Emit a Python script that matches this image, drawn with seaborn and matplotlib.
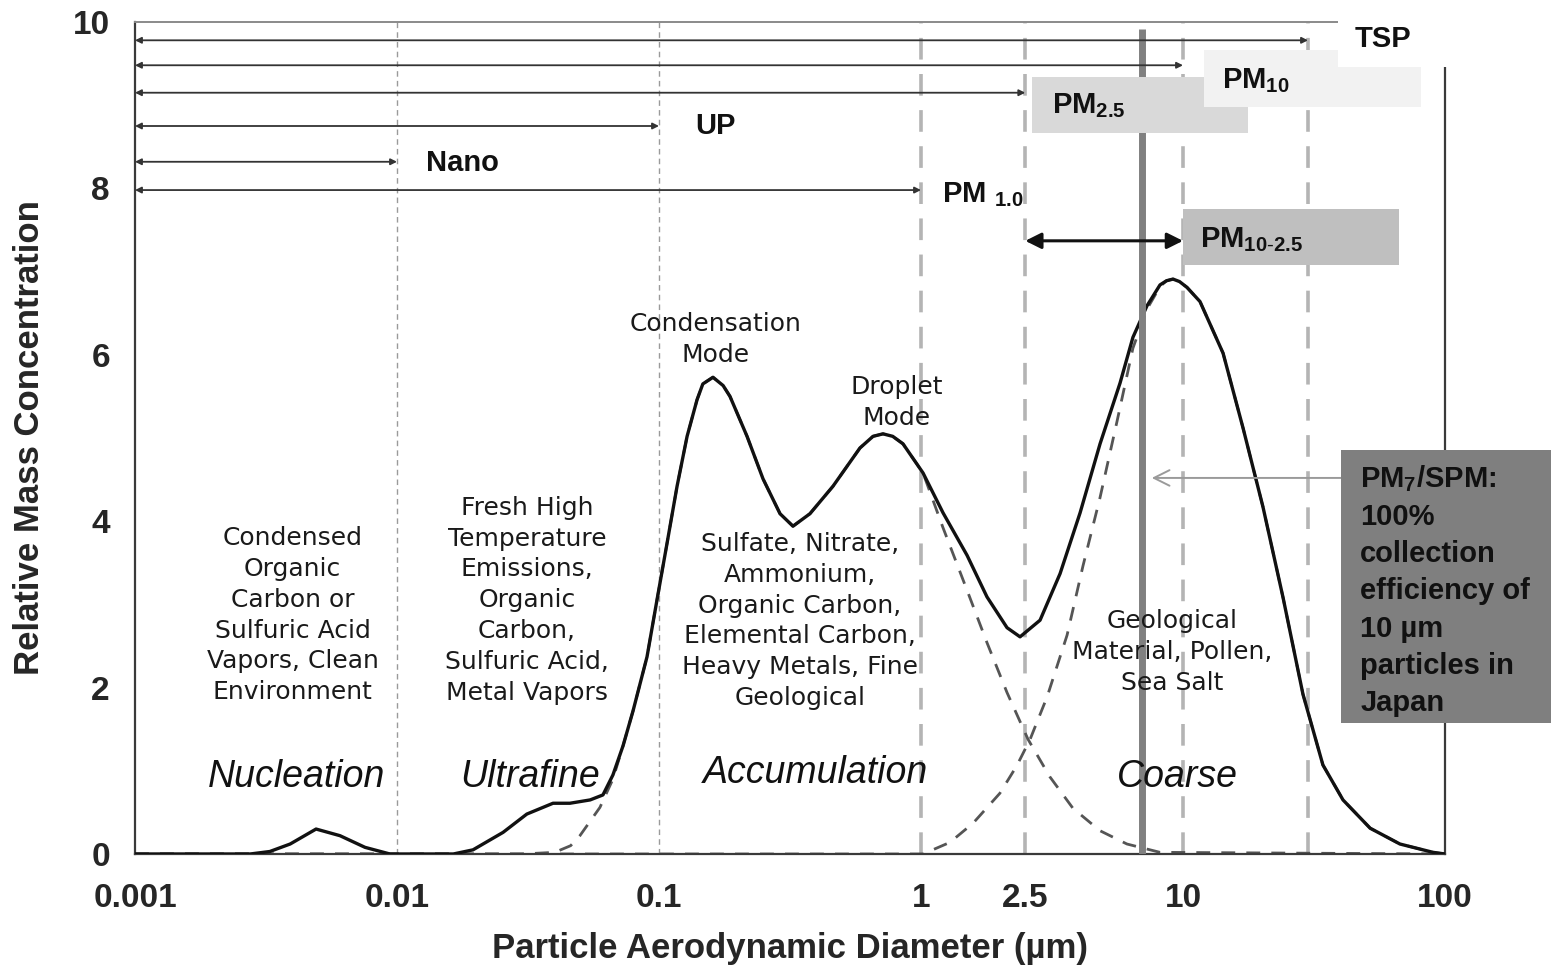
import matplotlib
matplotlib.use("Agg")
import matplotlib.pyplot as plt
from matplotlib.patches import Rectangle
from matplotlib.ticker import LogLocator, NullFormatter
import seaborn as sns
import pandas as pd

# Particle diameter (um) / relative mass concentration
total_d = [0.001, 0.00275, 0.00327, 0.00391, 0.00491, 0.00606, 0.00755, 0.0094,
           0.0112, 0.0164, 0.0195, 0.0254, 0.0313, 0.0394, 0.0457, 0.0546, 0.0611,
           0.0667, 0.0729, 0.0796, 0.0900, 0.0982, 0.1074, 0.1172, 0.1280, 0.1397,
           0.147, 0.1607, 0.1757, 0.1866, 0.2168, 0.2494, 0.2897, 0.3246, 0.3768,
           0.4613, 0.5848, 0.656, 0.7161, 0.78, 0.8536, 1.018, 1.214, 1.499, 1.786,
           2.130, 2.388, 2.847, 3.395, 4.047, 4.824, 5.75, 6.44, 7.29, 8.17, 8.65,
           9.16, 9.7, 10.36, 11.61, 14.22, 16.95, 20.2, 24.1, 28.7, 34.2, 40.8,
           51.8, 67.3, 90.0, 100]
total_c = [0, 0, 0.03, 0.12, 0.30, 0.22, 0.08, 0.0,
           0, 0, 0.05, 0.26, 0.48, 0.61, 0.61, 0.65, 0.71,
           0.95, 1.30, 1.72, 2.37, 3.05, 3.74, 4.42, 5.02, 5.46,
           5.65, 5.73, 5.63, 5.50, 5.02, 4.51, 4.09, 3.94, 4.09,
           4.42, 4.88, 5.02, 5.05, 5.02, 4.93, 4.58, 4.10, 3.59, 3.09,
           2.72, 2.61, 2.81, 3.37, 4.10, 4.93, 5.66, 6.21, 6.59, 6.84, 6.89,
           6.91, 6.88, 6.81, 6.64, 6.02, 5.12, 4.17, 3.08, 1.92, 1.07, 0.65,
           0.31, 0.12, 0.02, 0]

accum_d = [0.001, 0.03, 0.040, 0.046, 0.0499, 0.0595, 0.0667, 0.0729, 0.0796,
           0.0900, 0.0982, 0.1074, 0.1172, 0.1280, 0.1397, 0.147, 0.1607, 0.1757,
           0.1866, 0.2168, 0.2494, 0.2897, 0.3246, 0.3768, 0.4613, 0.5848, 0.656,
           0.7161, 0.78, 0.8536, 1.018, 1.214, 1.499, 1.786, 2.130, 2.56, 3.10,
           3.80, 4.82, 6.11, 8.17, 100]
accum_c = [0, 0, 0.02, 0.10, 0.22, 0.56, 0.90, 1.30, 1.72,
           2.37, 3.05, 3.74, 4.42, 5.02, 5.46, 5.65, 5.73, 5.63,
           5.50, 5.02, 4.51, 4.09, 3.94, 4.09, 4.42, 4.88, 5.02,
           5.05, 5.02, 4.93, 4.58, 3.92, 3.17, 2.54, 1.94, 1.38, 0.93,
           0.55, 0.28, 0.12, 0.02, 0]

coarse_d = [0.001, 1.018, 1.29, 1.58, 2.00, 2.32, 2.61, 3.03, 3.61, 4.15, 4.82,
            5.60, 6.44, 7.29, 8.17, 8.65, 9.16, 9.7, 10.36, 11.61, 14.22, 16.95,
            20.2, 24.1, 28.7, 34.2, 40.8, 51.8, 67.3, 90.0, 100]
coarse_c = [0, 0, 0.14, 0.37, 0.73, 1.06, 1.38, 1.89, 2.63, 3.46, 4.28,
            5.20, 6.08, 6.55, 6.82, 6.89, 6.91, 6.88, 6.81, 6.64, 6.02, 5.12,
            4.17, 3.08, 1.92, 1.07, 0.65, 0.31, 0.12, 0.02, 0]

# size cut points (um)
thin_cuts = [0.01, 0.1]
thick_cuts = [1, 2.5, 10, 30]
pm7_cut = 7

# size fractions measured from 0.001 um up to their cut
fraction_names = ["TSP", "PM10", "PM2.5", "UP", "Nano", "PM1.0"]
fraction_cuts = [30, 10, 2.5, 0.1, 0.01, 1]

xtick_vals = [0.001, 0.01, 0.1, 1, 2.5, 10, 100]
xtick_labels = ["0.001", "0.01", "0.1", "1", "2.5", "10", "100"]
ytick_vals = [0, 2, 4, 6, 8, 10]

sns.set_theme(style="white")
plt.rcParams["font.family"] = ["Liberation Sans", "DejaVu Sans"]
plt.rcParams["mathtext.fontset"] = "custom"
plt.rcParams["mathtext.rm"] = "Liberation Sans"
plt.rcParams["mathtext.bf"] = "Liberation Sans:bold"
plt.rcParams["mathtext.it"] = "Liberation Sans:italic"

fig = plt.figure(figsize=(15.51, 9.66), dpi=100)
ax = fig.add_axes([135 / 1551, 1 - 854 / 966, 1310 / 1551, 832 / 966])
ax.set_xscale("log")

# cut lines
for c in thin_cuts:
    ax.plot([c, c], [0, 10], color="#9a9a9a", lw=1.0, ls=(0, (4, 3)), zorder=1)
for c in thick_cuts:
    ax.plot([c, c], [0, 10], color="#b4b4b4", lw=2.6, ls=(0, (6, 4)), zorder=1)

# mode curves
sns.lineplot(x=accum_d, y=accum_c, ax=ax, color="#555555", lw=2.0,
             linestyle=(0, (5, 4)), zorder=2)
sns.lineplot(x=coarse_d, y=coarse_c, ax=ax, color="#555555", lw=2.0,
             linestyle=(0, (5, 4)), zorder=2)
sns.lineplot(x=total_d, y=total_c, ax=ax, color="#111111", lw=2.4, zorder=3)

ax.plot([pm7_cut, pm7_cut], [0, 9.92], color="#808080", lw=5, zorder=4,
        solid_capstyle="butt")

ax.set_xlim(0.001, 100)
ax.set_ylim(0, 10)

# spines / ticks
for side in ["left", "bottom", "right"]:
    ax.spines[side].set_color("#3a3a3a")
    ax.spines[side].set_linewidth(1.6)
ax.spines["top"].set_color("#8a8a8a")
ax.spines["top"].set_linewidth(1.4)

ax.set_xticks(xtick_vals)
ax.set_xticklabels(xtick_labels)
ax.xaxis.set_minor_locator(LogLocator(base=10, subs=range(2, 10)))
ax.xaxis.set_minor_formatter(NullFormatter())
ax.set_yticks(ytick_vals)
ax.tick_params(which="major", direction="inout", length=12, width=1.2,
               color="#3a3a3a", labelsize=24)
ax.tick_params(which="minor", direction="inout", length=9, width=1.0,
               color="#3a3a3a")
ax.tick_params(axis="x", which="major", pad=15)
ax.tick_params(axis="y", which="major", pad=12)
ax.tick_params(axis="y", which="minor", left=False)
for lab in ax.get_xticklabels() + ax.get_yticklabels():
    lab.set_fontweight("bold")

ax.set_xlabel("Particle Aerodynamic Diameter (µm)", fontsize=25,
              fontweight="bold", labelpad=13)
ax.set_ylabel("Relative Mass Concentration", fontsize=25,
              fontweight="bold", labelpad=19)

# size fraction arrows
levels = {"TSP": 9.78, "PM10": 9.48, "PM2.5": 9.15, "UP": 8.75, "Nano": 8.32,
          "PM1.0": 7.98}
for name, cut in zip(fraction_names, fraction_cuts):
    ax.annotate("", xy=(cut, levels[name]), xytext=(0.001, levels[name]),
                arrowprops=dict(arrowstyle="<|-|>", color="#333333", lw=1.3,
                                mutation_scale=9, shrinkA=0, shrinkB=0),
                zorder=5)
ax.annotate("", xy=(10, 7.37), xytext=(2.5, 7.37),
            arrowprops=dict(arrowstyle="<|-|>", color="#111111", lw=2.2,
                            mutation_scale=24, shrinkA=0, shrinkB=0), zorder=5)

# label boxes
ax.add_patch(Rectangle((2.65, 8.67), 17.7 - 2.65, 0.67, color="#d9d9d9",
                       lw=0, zorder=6, clip_on=False))
ax.add_patch(Rectangle((12.0, 8.98), 80.9 - 12.0, 0.68, color="#f2f2f2",
                       lw=0, zorder=7, clip_on=False))
ax.add_patch(Rectangle((10.0, 7.08), 66.7 - 10.0, 0.67, color="#bfbfbf",
                       lw=0, zorder=6, clip_on=False))
ax.add_patch(Rectangle((39.1, 9.46), 400, 2.0, color="white", lw=0,
                       zorder=8, clip_on=False))
ax.add_patch(Rectangle((40.1, 1.57), 300, 3.29, color="#7f7f7f", lw=0,
                       zorder=8, clip_on=False))

bold = dict(fontsize=21, fontweight="bold", color="#111111", va="center",
            ha="left", zorder=9)
ax.text(45.3, 9.80, "TSP", **bold)
ax.text(14.1, 9.30, "PM$_{\\mathbf{10}}$", **bold)
ax.text(3.16, 9.00, "PM$_{\\mathbf{2.5}}$", **bold)
ax.text(11.6, 7.38, "PM$_{\\mathbf{10\\text{-}2.5}}$", **bold)
ax.text(0.137, 8.75, "UP", **bold)
ax.text(0.0129, 8.31, "Nano", **bold)
ax.text(1.20, 7.93, "PM $_{\\mathbf{1.0}}$", **bold)

ax.text(47.5, 4.70, "PM$_{\\mathbf{7}}$/SPM:\n100%\ncollection\nefficiency of\n"
        "10 µm\nparticles in\nJapan", fontsize=21, fontweight="bold",
        color="#111111", ha="left", va="top", linespacing=1.42, zorder=9,
        clip_on=False)
ax.annotate("", xy=(7.6, 4.52), xytext=(40.1, 4.52),
            arrowprops=dict(arrowstyle="->", color="#9a9a9a", lw=1.4,
                            mutation_scale=28, shrinkA=0, shrinkB=0), zorder=5)

# descriptions
desc = dict(fontsize=18, family="DejaVu Sans", color="#1a1a1a", ha="center",
            va="center", linespacing=1.36, zorder=9)
ax.text(0.0040, 2.87, "Condensed\nOrganic\nCarbon or\nSulfuric Acid\n"
        "Vapors, Clean\nEnvironment", **desc)
ax.text(0.0313, 3.05, "Fresh High\nTemperature\nEmissions,\nOrganic\nCarbon,\n"
        "Sulfuric Acid,\nMetal Vapors", **desc)
ax.text(0.345, 2.80, "Sulfate, Nitrate,\nAmmonium,\nOrganic Carbon,\n"
        "Elemental Carbon,\nHeavy Metals, Fine\nGeological", **desc)
ax.text(9.08, 2.43, "Geological\nMaterial, Pollen,\nSea Salt", **desc)
ax.text(0.164, 6.18, "Condensation\nMode", **desc)
ax.text(0.81, 5.43, "Droplet\nMode", **desc)

mode = dict(fontsize=27, style="italic", color="#111111", ha="center",
            va="center", zorder=9)
ax.text(0.00415, 0.93, "Nucleation", **mode)
ax.text(0.0322, 0.93, "Ultrafine", **mode)
ax.text(0.397, 0.97, "Accumulation", **mode)
ax.text(9.49, 0.93, "Coarse", **mode)

fig.savefig("out.png", dpi=100)
